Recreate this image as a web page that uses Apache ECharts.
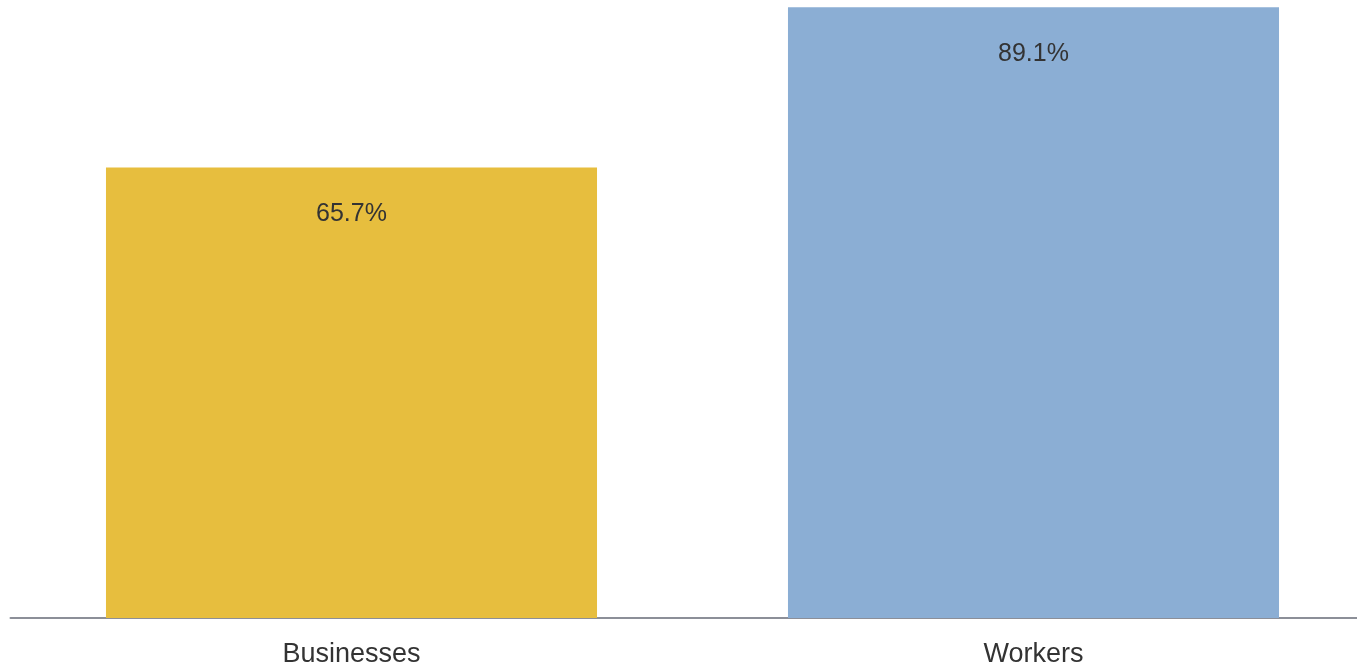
<!DOCTYPE html>
<html><head><meta charset="utf-8">
<script src="https://cdn.jsdelivr.net/npm/echarts@6/dist/echarts.min.js"></script>
<style>html,body{margin:0;padding:0;background:#fff}#c{width:1357px;height:669px}</style>
</head><body><div id="c"></div>
<script>
const categories = ['Businesses', 'Workers'];
const values = [65.7, 89.1];
const barColors = ['#E7BE3E', '#8BAED4'];

const chart = echarts.init(document.getElementById('c'), null, {renderer: 'canvas'});
chart.setOption({
  animation: false,
  grid: {left: 10.5, width: 1364, top: 1, bottom: 51, containLabel: false, outerBoundsMode: 'none'},
  xAxis: {
    type: 'category', data: categories,
    axisLine: {lineStyle: {color: '#8C8F98', width: 2}},
    axisTick: {show: false},
    axisLabel: {color: '#333', fontSize: 27, fontFamily: 'Liberation Sans Narrow, Arial Narrow, sans-serif', margin: 23}
  },
  yAxis: {type: 'value', min: 0, max: 90, show: false, splitLine: {show: false}},
  series: [{
    type: 'bar', barWidth: '72%',
    data: values.map((v, i) => ({value: v, itemStyle: {color: barColors[i]}})),
    label: {show: true, position: 'insideTop', distance: 34, color: '#333',
      fontSize: 25, fontFamily: 'Liberation Sans, Arial, sans-serif',
      formatter: p => p.value.toFixed(1) + '%'}
  }]
});
</script></body></html>
